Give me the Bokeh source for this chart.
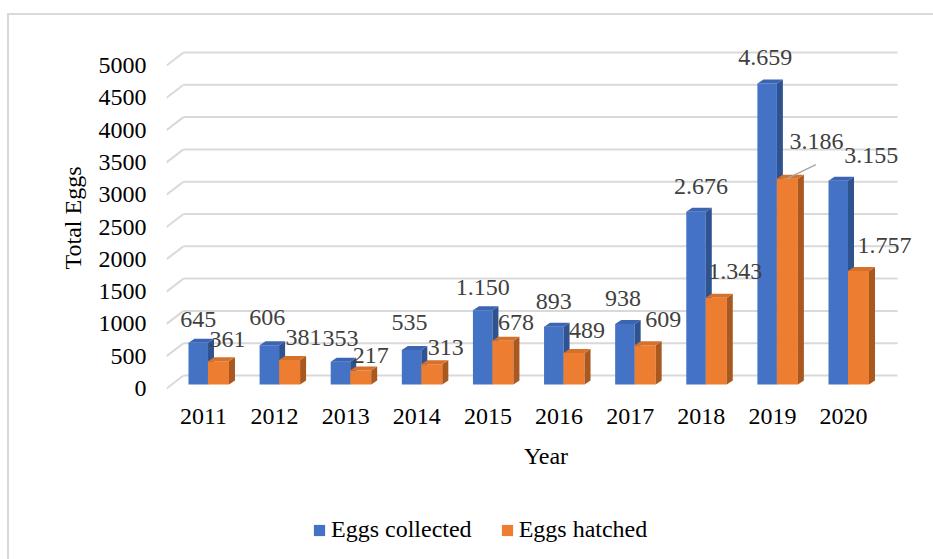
import numpy as np
from bokeh.plotting import figure
from bokeh.layouts import column
from bokeh.models import Range1d, FixedTicker, Legend, LegendItem, ColumnDataSource
from bokeh.embed import file_html
from bokeh.resources import INLINE
from bokeh.core.properties import value

years = ["2011", "2012", "2013", "2014", "2015", "2016", "2017", "2018", "2019", "2020"]
eggs_collected = [645, 606, 353, 535, 1150, 893, 938, 2676, 4659, 3155]
eggs_hatched = [361, 381, 217, 313, 678, 489, 609, 1343, 3186, 1757]
collected_labels = ["645", "606", "353", "535", "1.150", "893", "938", "2.676", "4.659", "3.155"]
hatched_labels = ["361", "381", "217", "313", "678", "489", "609", "1.343", "3.186", "1.757"]
y_ticks = [0, 500, 1000, 1500, 2000, 2500, 3000, 3500, 4000, 4500, 5000]
series_names = ["Eggs collected", "Eggs hatched"]

# label nudges in screen pixels (layout only)
c_nudge_x = [0, -2, 0, -2, 0, 0, -2, 5, -2, 33]
c_nudge_y = [0, -5, 0, -4, 0, -2, -2, -2, -3, -2]
h_nudge_x = [-5, 0, -4, 0, -1, -1, 4, 5, 15, 12]
h_nudge_y = [0, 0, 7, 5, 4, 0, -4, -4, -15, -4]

FONT = "Liberation Serif"
BLUE, BLUE_SIDE, BLUE_TOP = "#4472C4", "#2F5290", "#3B65B2"
ORANGE, ORANGE_SIDE, ORANGE_TOP = "#ED7D31", "#A9581F", "#D6712B"
GRID = "#D9D9D9"

PX_X = 71.11
PX_Y = 0.0646
x_lo, x_hi = -0.520, 10.153      # frame range (frame spans page x 166..925)
grid_end = 9.760                  # gridlines stop at page x 897
y_lo, y_hi = -108, 5387

# canvas origin at page (9, 15); frame spans page y 40..395
p = figure(width=924, height=465, output_backend="svg", toolbar_location=None,
           x_range=Range1d(x_lo, x_hi), y_range=Range1d(y_lo, y_hi),
           min_border_left=157, min_border_right=8, min_border_top=25, min_border_bottom=85)
p.outline_line_color = None
p.xgrid.visible = False
p.ygrid.visible = False
p.background_fill_color = "white"
p.border_fill_color = "white"

# 3D gridlines: diagonal from front-left, then along the back wall
wall_dx = 17 / PX_X
wall_dy = 13 / PX_Y
gv = np.array(y_ticks, dtype=float)
p.segment(x0=np.full_like(gv, x_lo), y0=gv, x1=np.full_like(gv, x_lo + wall_dx), y1=gv + wall_dy,
          line_color=GRID, line_width=2)
p.segment(x0=np.full_like(gv, x_lo + wall_dx), y0=gv + wall_dy, x1=np.full_like(gv, grid_end), y1=gv + wall_dy,
          line_color=GRID, line_width=2)

# 3D bars
xc = np.arange(len(years), dtype=float)
base = 4 / PX_Y
ddx = 6 / PX_X
ddy = 4 / PX_Y

def bars(lefts, rights, vals, front, side, top):
    bot = np.full_like(vals, base)
    tops = base + vals
    p.quad(left=lefts, right=rights, bottom=bot, top=tops, fill_color=front, line_color=None)
    side_xs = [[x, x + ddx, x + ddx, x] for x in rights]
    side_ys = [[b, b + ddy, t + ddy, t] for b, t in zip(bot, tops)]
    p.patches(side_xs, side_ys, fill_color=side, line_color=None)
    top_xs = [[l, x, x + ddx, l + ddx] for l, x in zip(lefts, rights)]
    top_ys = [[t, t, t + ddy, t + ddy] for t in tops]
    p.patches(top_xs, top_ys, fill_color=top, line_color=None)

bl = xc - 15 / PX_X
bm = xc + 4.5 / PX_X
orr = xc + 25.5 / PX_X
vc = np.array(eggs_collected, dtype=float)
vh = np.array(eggs_hatched, dtype=float)
bars(bl, bm, vc, BLUE, BLUE_SIDE, BLUE_TOP)
bars(bm, orr, vh, ORANGE, ORANGE_SIDE, ORANGE_TOP)

# data labels
lab_c = ColumnDataSource(dict(x=(bl + bm) / 2, y=base + vc, t=collected_labels,
                              xo=np.array(c_nudge_x, float), yo=-23.0 + np.array(c_nudge_y, float)))
p.text(x="x", y="y", text="t", source=lab_c, text_align="center", text_baseline="middle",
       x_offset="xo", y_offset="yo", text_font=value(FONT), text_font_size="24px", text_color="#404040")
lab_h = ColumnDataSource(dict(x=(bm + orr) / 2, y=base + vh, t=hatched_labels,
                              xo=14.0 + np.array(h_nudge_x, float), yo=-22.0 + np.array(h_nudge_y, float)))
p.text(x="x", y="y", text="t", source=lab_h, text_align="center", text_baseline="middle",
       x_offset="xo", y_offset="yo", text_font=value(FONT), text_font_size="24px", text_color="#404040")
# leader line for the 2019 hatched label
i19 = years.index("2019")
p.segment(x0=[bm[i19] + 10 / PX_X], y0=[base + vh[i19]],
          x1=[bm[i19] + 39 / PX_X], y1=[base + vh[i19] + 14 / PX_Y],
          line_color="#A6A6A6", line_width=1.5)

# axes
p.xaxis.ticker = FixedTicker(ticks=list(range(len(years))))
p.xaxis.major_label_overrides = {i: y for i, y in enumerate(years)}
p.yaxis.ticker = FixedTicker(ticks=y_ticks)
for ax in (p.xaxis[0], p.yaxis[0]):
    ax.axis_line_color = None
    ax.major_tick_line_color = None
    ax.minor_tick_line_color = None
    ax.major_label_text_font = FONT
    ax.major_label_text_font_size = "24px"
    ax.major_label_text_color = "black"
    ax.axis_label_text_font = FONT
    ax.axis_label_text_font_size = "24px"
    ax.axis_label_text_font_style = "normal"
    ax.axis_label_text_color = "black"
p.yaxis.major_label_standoff = 14
p.xaxis.major_label_standoff = 7
p.yaxis.axis_label = "Total Eggs"
p.yaxis.axis_label_standoff = 10
p.xaxis.axis_label = "Year"
p.xaxis.axis_label_standoff = 16

# legend strip (separate small figure below the chart)
leg = figure(width=924, height=79, output_backend="svg", toolbar_location=None,
             x_range=Range1d(0, 1), y_range=Range1d(0, 1),
             min_border_left=0, min_border_right=0, min_border_top=0, min_border_bottom=0)
leg.axis.visible = False
leg.grid.visible = False
leg.outline_line_color = None
leg.border_fill_color = "white"
q1 = leg.quad(left=[2], right=[3], bottom=[2], top=[3], fill_color=BLUE, line_color=None)
q2 = leg.quad(left=[2], right=[3], bottom=[2], top=[3], fill_color=ORANGE, line_color=None)
legend = Legend(items=[LegendItem(label=series_names[0], renderers=[q1]),
                       LegendItem(label=series_names[1], renderers=[q2])],
                orientation="horizontal", location=(146, 16),
                label_text_font=FONT, label_text_font_size="24px", label_text_color="black",
                glyph_width=14, glyph_height=14, label_standoff=5, spacing=28,
                border_line_color=None, background_fill_alpha=0, padding=4, margin=0)
leg.add_layout(legend, "center")

layout = column(p, leg, spacing=0)
layout.styles = {"border-top": "2px solid #D9D9D9", "border-left": "2px solid #D9D9D9",
                 "margin-top": "13px", "margin-left": "7px"}

open("out.html", "w").write(file_html(layout, INLINE))
